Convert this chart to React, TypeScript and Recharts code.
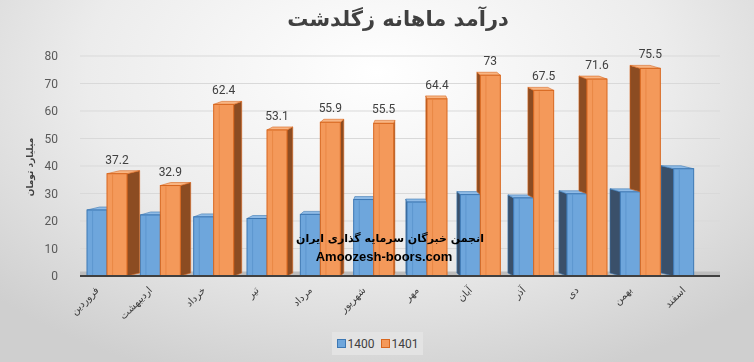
import React from "react";
import {
  BarChart,
  Bar,
  XAxis,
  YAxis,
  CartesianGrid,
  LabelList,
  ReferenceArea,
} from "recharts";

const months = [
  "فروردین",
  "اردیبهشت",
  "خرداد",
  "تیر",
  "مرداد",
  "شهریور",
  "مهر",
  "آبان",
  "آذر",
  "دی",
  "بهمن",
  "اسفند",
];
const income1400 = [24, 22.2, 21.5, 20.9, 22.4, 27.8, 26.9, 29.6, 28.4, 29.9, 30.6, 39];
const income1401 = [37.2, 32.9, 62.4, 53.1, 55.9, 55.5, 64.4, 73, 67.5, 71.6, 75.5, null];
const yTicks = [0, 10, 20, 30, 40, 50, 60, 70, 80];

const data = months.map((m, i) => ({ month: m, a: income1400[i], b: income1401[i] }));

const W = 754;
const H = 362;
const persian = "'DejaVu Sans', sans-serif";

// how far the side of a column shows, depends on where it sits (fake perspective)
const depthAt = (i: number) => (5.5 - i) * 2.3;
const RISE = 3;

function make3d(front: string, edge: string, side: string, top: string, isBack: boolean) {
  return (props: any) => {
    const { x, y, width: w, height: h, index, payload } = props;
    if (!h || h <= 0) return null;
    const d = depthAt(index);
    let sideBottom = y + h;
    // orange side on the right half sits behind the blue column
    if (isBack && d < 0 && payload.b) {
      sideBottom = y + h - (payload.a * h) / payload.b;
    }
    const sx = d > 0 ? x + w : x;
    const sidePts = `${sx},${y} ${sx + d},${y - RISE} ${sx + d},${sideBottom - RISE} ${sx},${sideBottom}`;
    const topPts = `${x},${y} ${x + w},${y} ${x + w + d},${y - RISE} ${x + d},${y - RISE}`;
    return (
      <g>
        {sideBottom > y && <polygon points={sidePts} fill={side} stroke={edge} strokeWidth={0.6} />}
        <polygon points={topPts} fill={top} stroke={edge} strokeWidth={0.6} />
        <rect x={x} y={y} width={w} height={h} fill={front} stroke={edge} strokeWidth={1} />
        <line x1={x + w * 0.28} y1={y + 1} x2={x + w * 0.28} y2={y + h} stroke={edge} strokeOpacity={0.35} />
      </g>
    );
  };
}

const BlueShape = make3d("#6ea6dc", "#3d78b4", "#3a506a", "#8fbbe6", false);
const OrangeShape = make3d("#f4995a", "#d8671f", "#8c4c22", "#f8b583", true);

function MonthTick({ x, y, payload }: any) {
  return (
    <g transform={`translate(${x - 10},${y + 4})`}>
      <text
        transform="rotate(-45)"
        textAnchor="end"
        fontFamily={persian}
        fontSize={10}
        fill="#404040"
        dy={4}
      >
        {payload.value}
      </text>
    </g>
  );
}

export default function App() {
  return (
    <div
      style={{
        position: "fixed",
        left: 0,
        top: 0,
        width: W,
        height: H,
        background: "radial-gradient(ellipse 70% 90% at 50% 20%, #ffffff 0%, #ececec 55%, #cfcfcf 100%)",
        overflow: "hidden",
      }}
    >
      <div
        style={{
          position: "absolute",
          top: 7,
          left: 0,
          width: W,
          paddingLeft: 42,
          boxSizing: "border-box",
          textAlign: "center",
          fontFamily: persian,
          fontWeight: "bold",
          fontSize: 21,
          color: "#404040",
          direction: "rtl",
        }}
      >
        درآمد ماهانه زگلدشت
      </div>
      <div
        style={{
          position: "absolute",
          left: 30,
          top: 167,
          transform: "translate(-50%, -50%) rotate(-90deg)",
          whiteSpace: "nowrap",
          fontFamily: persian,
          fontWeight: "bold",
          fontSize: 9,
          color: "#404040",
          direction: "rtl",
        }}
      >
        میلیارد تومان
      </div>
      <BarChart
        width={W}
        height={H}
        data={data}
        margin={{ top: 56, right: 34, bottom: 0, left: 50 }}
        barGap={0}
        barSize={20}
        style={{ position: "absolute", left: 0, top: 0 }}
      >
        <CartesianGrid horizontal vertical={false} stroke="#d9d9d9" />
        <ReferenceArea y1={0} y2={1.6} fill="#bdbdbd" fillOpacity={1} stroke="none" />
        <XAxis
          dataKey="month"
          height={86}
          interval={0}
          tick={<MonthTick />}
          tickLine={false}
          axisLine={{ stroke: "#404040", strokeWidth: 2 }}
        />
        <YAxis
          width={30}
          domain={[0, 80]}
          ticks={yTicks}
          tick={{ fill: "#595959", fontSize: 12, fontFamily: "Roboto", dx: -14 }}
          tickLine={false}
          axisLine={false}
        />
        <Bar dataKey="a" name="1400" shape={BlueShape} isAnimationActive={false} />
        <Bar dataKey="b" name="1401" shape={OrangeShape} isAnimationActive={false}>
          <LabelList
            dataKey="b"
            position="top"
            offset={10}
            fill="#404040"
            fontSize={12}
            fontFamily="Roboto"
          />
        </Bar>
      </BarChart>
      <div
        style={{
          position: "absolute",
          left: 0,
          width: W,
          top: 230,
          textAlign: "center",
          fontFamily: persian,
          fontWeight: "bold",
          color: "#000",
          lineHeight: "18px",
        }}
      >
        <div style={{ fontSize: 11, direction: "rtl", marginLeft: 26 }}>انجمن خبرگان سرمایه گذاری ایران</div>
        <div style={{ fontSize: 13, fontFamily: "'Liberation Sans', Arial, sans-serif", marginLeft: 14 }}>
          Amoozesh-boors.com
        </div>
      </div>
      <div
        style={{
          position: "absolute",
          left: 332,
          top: 332,
          width: 91,
          height: 23,
          background: "#e3e3e3",
          display: "flex",
          alignItems: "center",
          justifyContent: "center",
          gap: 6,
          fontFamily: "Roboto",
          fontSize: 12,
          color: "#404040",
        }}
      >
        {[
          { label: "1400", fill: "#6ea6dc", edge: "#3d78b4" },
          { label: "1401", fill: "#f4995a", edge: "#d8671f" },
        ].map((s) => (
          <span key={s.label} style={{ display: "flex", alignItems: "center", gap: 2 }}>
            <span style={{ width: 7, height: 7, background: s.fill, border: `1px solid ${s.edge}` }} />
            {s.label}
          </span>
        ))}
      </div>
    </div>
  );
}
